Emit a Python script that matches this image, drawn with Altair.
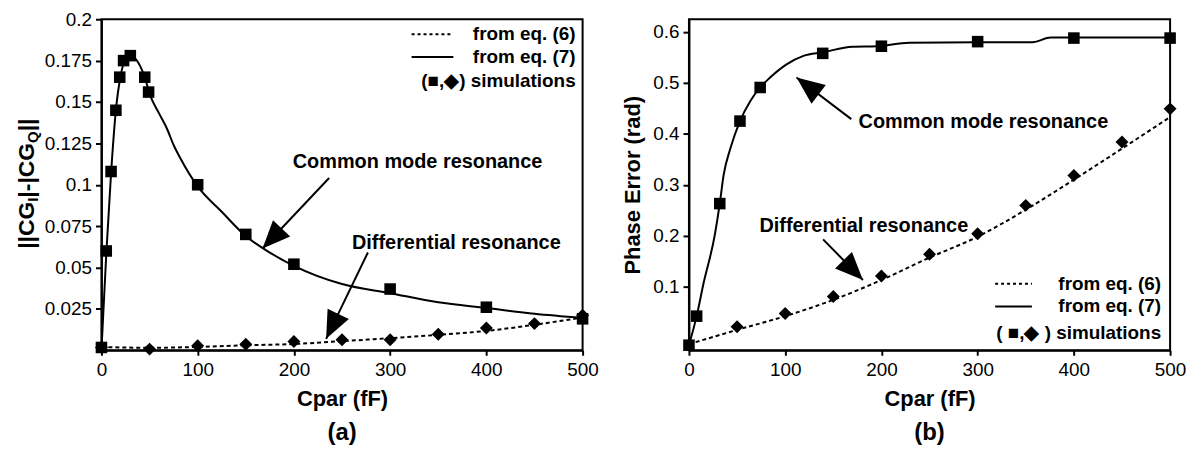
import math
import altair as alt
import pandas as pd

FONT = "Liberation Sans"

# ---------------- panel (a) data ----------------
a_eq7_x = [0, 5, 10, 15, 20, 25, 30, 40, 45, 50, 60, 68, 75, 82, 100, 125, 150, 175, 200, 250, 300, 350, 400, 450, 500]
a_eq7_y = [0.0, 0.058, 0.107, 0.145, 0.166, 0.176, 0.178, 0.172, 0.165, 0.155, 0.143, 0.134, 0.124, 0.116, 0.099,
           0.0837, 0.069, 0.059, 0.051, 0.040, 0.0345, 0.029, 0.0255, 0.022, 0.0195]
a_eq6_x = [0, 50, 100, 150, 200, 250, 300, 350, 400, 450, 500]
a_eq6_y = [0.002, 0.0015, 0.002, 0.003, 0.0038, 0.0055, 0.0073, 0.0093, 0.0117, 0.0154, 0.0198]
a_sq_x = [0, 5, 10, 15, 19, 23, 30, 45, 49, 100, 150, 200, 300, 400, 500]
a_sq_y = [0.0017, 0.060, 0.108, 0.145, 0.165, 0.175, 0.178, 0.165, 0.156, 0.100, 0.070, 0.052, 0.037, 0.026, 0.019]
a_dm_x = [0, 50, 100, 150, 200, 250, 300, 350, 400, 450, 500]
a_dm_y = [0.0017, 0.0007, 0.0027, 0.0037, 0.0053, 0.0063, 0.0063, 0.0097, 0.0134, 0.0161, 0.0212]

a_note_text = ["Common mode resonance", "Differential resonance"]
a_note_x = [328.5, 368.8]
a_note_y = [0.1137, 0.0648]
a_arrow_x0 = [236.6, 276.9]
a_arrow_y0 = [0.1041, 0.0591]
a_arrow_x1 = [167.4, 233.5]
a_arrow_y1 = [0.0615, 0.0069]
a_yticks = [0.025, 0.05, 0.075, 0.1, 0.125, 0.15, 0.175, 0.2]

# ---------------- panel (b) data ----------------
b_eq7_x = [0, 8, 15, 27, 32, 36, 43, 53, 64, 74, 84, 101, 119, 139, 170, 195, 229, 300, 357, 376, 400, 500]
b_eq7_y = [-0.015, 0.042, 0.105, 0.203, 0.263, 0.319, 0.371, 0.425, 0.465, 0.491, 0.510, 0.536, 0.553, 0.560,
           0.571, 0.572, 0.579, 0.580, 0.580, 0.589, 0.589, 0.589]
b_eq6_x = [0, 50, 100, 150, 200, 250, 300, 350, 400, 450, 500]
b_eq6_y = [-0.013, 0.015, 0.042, 0.074, 0.113, 0.157, 0.198, 0.251, 0.310, 0.371, 0.433]
b_sq_x = [0, 8, 32, 53, 74, 139, 200, 300, 400, 500]
b_sq_y = [-0.015, 0.042, 0.263, 0.425, 0.491, 0.558, 0.572, 0.581, 0.588, 0.588]
b_dm_x = [50, 100, 150, 200, 250, 300, 350, 400, 450, 500]
b_dm_y = [0.021, 0.047, 0.0805, 0.121, 0.1636, 0.2037, 0.2595, 0.318, 0.384, 0.449]

b_note_text = ["Common mode resonance", "Differential resonance"]
b_note_x = [306.0, 181.7]
b_note_y = [0.423, 0.2187]
b_arrow_x0 = [168.7, 139.4]
b_arrow_y0 = [0.4288, 0.1928]
b_arrow_x1 = [111.8, 180.8]
b_arrow_y1 = [0.5105, 0.113]
b_yticks = [0.1, 0.2, 0.3, 0.4, 0.5, 0.6]

x_ticks = [0, 100, 200, 300, 400, 500]
legend_labels = ["from eq. (6)", "from eq. (7)"]

W, H = 484, 333
HEAD = "M0,0L-0.85,2L0.85,2Z"


def one(text):
    return pd.DataFrame({"t": [text]})


def panel(eq7_x, eq7_y, eq6_x, eq6_y, sq_x, sq_y, dm_x, dm_y, ydom, yticks, ytitle,
          note_text, note_x, note_y, ax0, ay0, ax1, ay1, leg_rows, leg_right, leg_line, sim_text, plabel):
    xs = alt.Scale(domain=[0, 500], nice=False, zero=False)
    ys = alt.Scale(domain=ydom, nice=False, zero=False)
    xaxis = alt.Axis(values=x_ticks, format="d", title="Cpar (fF)", labelFlush=False,
                     tickSize=5, labelPadding=5, titlePadding=10)
    yaxis = alt.Axis(values=yticks, labelExpr="format(datum.value, '.3~f')", title=ytitle,
                     tickSize=6, labelPadding=4, titlePadding=8)
    X = lambda f: alt.X(f, type="quantitative", scale=xs, axis=xaxis)
    Y = lambda f: alt.Y(f, type="quantitative", scale=ys, axis=yaxis)

    d7 = pd.DataFrame({"x": eq7_x, "y": eq7_y})
    d6 = pd.DataFrame({"x": eq6_x, "y": eq6_y})
    dsq = pd.DataFrame({"x": sq_x, "y": sq_y})
    ddm = pd.DataFrame({"x": dm_x, "y": dm_y})

    l7 = alt.Chart(d7).mark_line(color="black", strokeWidth=2, interpolate="monotone").encode(x=X("x"), y=Y("y"))
    l6 = alt.Chart(d6).mark_line(color="black", strokeWidth=2, strokeDash=[4, 3],
                                 interpolate="monotone").encode(x=X("x"), y=Y("y"))
    psq = alt.Chart(dsq).mark_point(shape="square", filled=True, size=135, color="black",
                                    opacity=1).encode(x=X("x"), y=Y("y"))
    pdm = alt.Chart(ddm).mark_point(shape="diamond", filled=True, size=170, color="black",
                                    opacity=1).encode(x=X("x"), y=Y("y"))

    kx = W / 500.0
    ky = H / (ydom[1] - ydom[0])
    angs = []
    for i in range(len(ax0)):
        dxp = (ax1[i] - ax0[i]) * kx
        dyp = -(ay1[i] - ay0[i]) * ky
        angs.append(math.degrees(math.atan2(dxp, -dyp)) % 360)
    darr = pd.DataFrame({"x0": ax0, "y0": ay0, "x1": ax1, "y1": ay1, "ang": angs})
    rules = alt.Chart(darr).mark_rule(color="black", strokeWidth=2).encode(
        x=X("x0"), y=Y("y0"), x2="x1", y2="y1")
    heads = alt.Chart(darr).mark_point(shape=HEAD, filled=True, size=780, color="black", opacity=1,
                                       strokeWidth=0).encode(
        x=X("x1"), y=Y("y1"), angle=alt.Angle("ang:Q", scale=None))
    dnote = pd.DataFrame({"x": note_x, "y": note_y, "t": note_text})
    notes = alt.Chart(dnote).mark_text(font=FONT, fontSize=20, fontWeight="bold", color="black").encode(
        x=X("x"), y=Y("y"), text="t:N")

    # legend (decoration, pixel positions)
    leg = []
    r0, r1, r2 = leg_rows
    leg.append(alt.Chart(one("a")).mark_rule(color="black", strokeWidth=2, strokeDash=[3, 3]).encode(
        x=alt.value(leg_line[0]), x2=alt.value(leg_line[1]), y=alt.value(r0)))
    leg.append(alt.Chart(one("b")).mark_rule(color="black", strokeWidth=2).encode(
        x=alt.value(leg_line[0]), x2=alt.value(leg_line[1]), y=alt.value(r1)))
    for txt, ry in [(legend_labels[0], r0), (legend_labels[1], r1), (sim_text, r2)]:
        leg.append(alt.Chart(one(txt)).mark_text(font=FONT, fontSize=19, fontWeight="bold", color="black",
                                                 align="right", baseline="middle").encode(
            x=alt.value(leg_right), y=alt.value(ry), text="t:N"))

    lab = alt.Chart(one(plabel)).mark_text(font=FONT, fontSize=24, fontWeight="bold", color="black",
                                           baseline="middle").encode(
        x=alt.value(W / 2), y=alt.value(416), text="t:N")

    return [l7, l6, psq, pdm, rules, heads, notes, lab] + leg


# y-title of panel (a) with subscripts, built from text pieces
BOLD_W = {"|": 0.280, "C": 0.722, "G": 0.778, "-": 0.333, "I": 0.278, "Q": 0.778}
pieces = [("||CG", 23, 0), ("I", 15, 4), ("|-|CG", 23, 0), ("Q", 15, 4), ("||", 23, 0)]
title_layers = []
ypos = 231.0
for txt, fs, shift in pieces:
    title_layers.append(
        alt.Chart(one(txt)).mark_text(font=FONT, fontSize=fs, fontWeight="bold", color="black", angle=270,
                                      align="left", baseline="alphabetic").encode(
            x=alt.value(-68 + shift), y=alt.value(ypos), text="t:N"))
    ypos -= sum(BOLD_W[c] for c in txt) * fs

pa_layers = panel(a_eq7_x, a_eq7_y, a_eq6_x, a_eq6_y, a_sq_x, a_sq_y, a_dm_x, a_dm_y, [0, 0.2], a_yticks, "",
                  a_note_text, a_note_x, a_note_y, a_arrow_x0, a_arrow_y0, a_arrow_x1, a_arrow_y1,
                  (15, 38, 62), 477, (312, 354), "(\u25a0,\u25c6) simulations", "(a)")
pb_layers = panel(b_eq7_x, b_eq7_y, b_eq6_x, b_eq6_y, b_sq_x, b_sq_y, b_dm_x, b_dm_y, [-0.025, 0.625], b_yticks,
                  "Phase Error (rad)",
                  b_note_text, b_note_x, b_note_y, b_arrow_x0, b_arrow_y0, b_arrow_x1, b_arrow_y1,
                  (266, 289, 316), 475, (308, 345), "( \u25a0,\u25c6 ) simulations", "(b)")

pa = alt.layer(*(pa_layers + title_layers)).properties(width=W, height=H)
pb = alt.layer(*pb_layers).properties(width=W, height=H)

chart = alt.hconcat(pa, pb, spacing=107, bounds="flush").configure_view(
    stroke="black", strokeWidth=2
).configure_axis(
    labelFont=FONT, labelFontSize=19, labelColor="black", titleFont=FONT, titleFontSize=22,
    titleFontWeight="bold", titleColor="black", tickColor="black", tickWidth=2, domainColor="black",
    domainWidth=2, grid=False
).properties(
    padding={"left": 6, "top": 0, "right": 0, "bottom": 0}, background="white"
)

chart.save("out.html", embed_options={"renderer": "svg", "actions": False})
